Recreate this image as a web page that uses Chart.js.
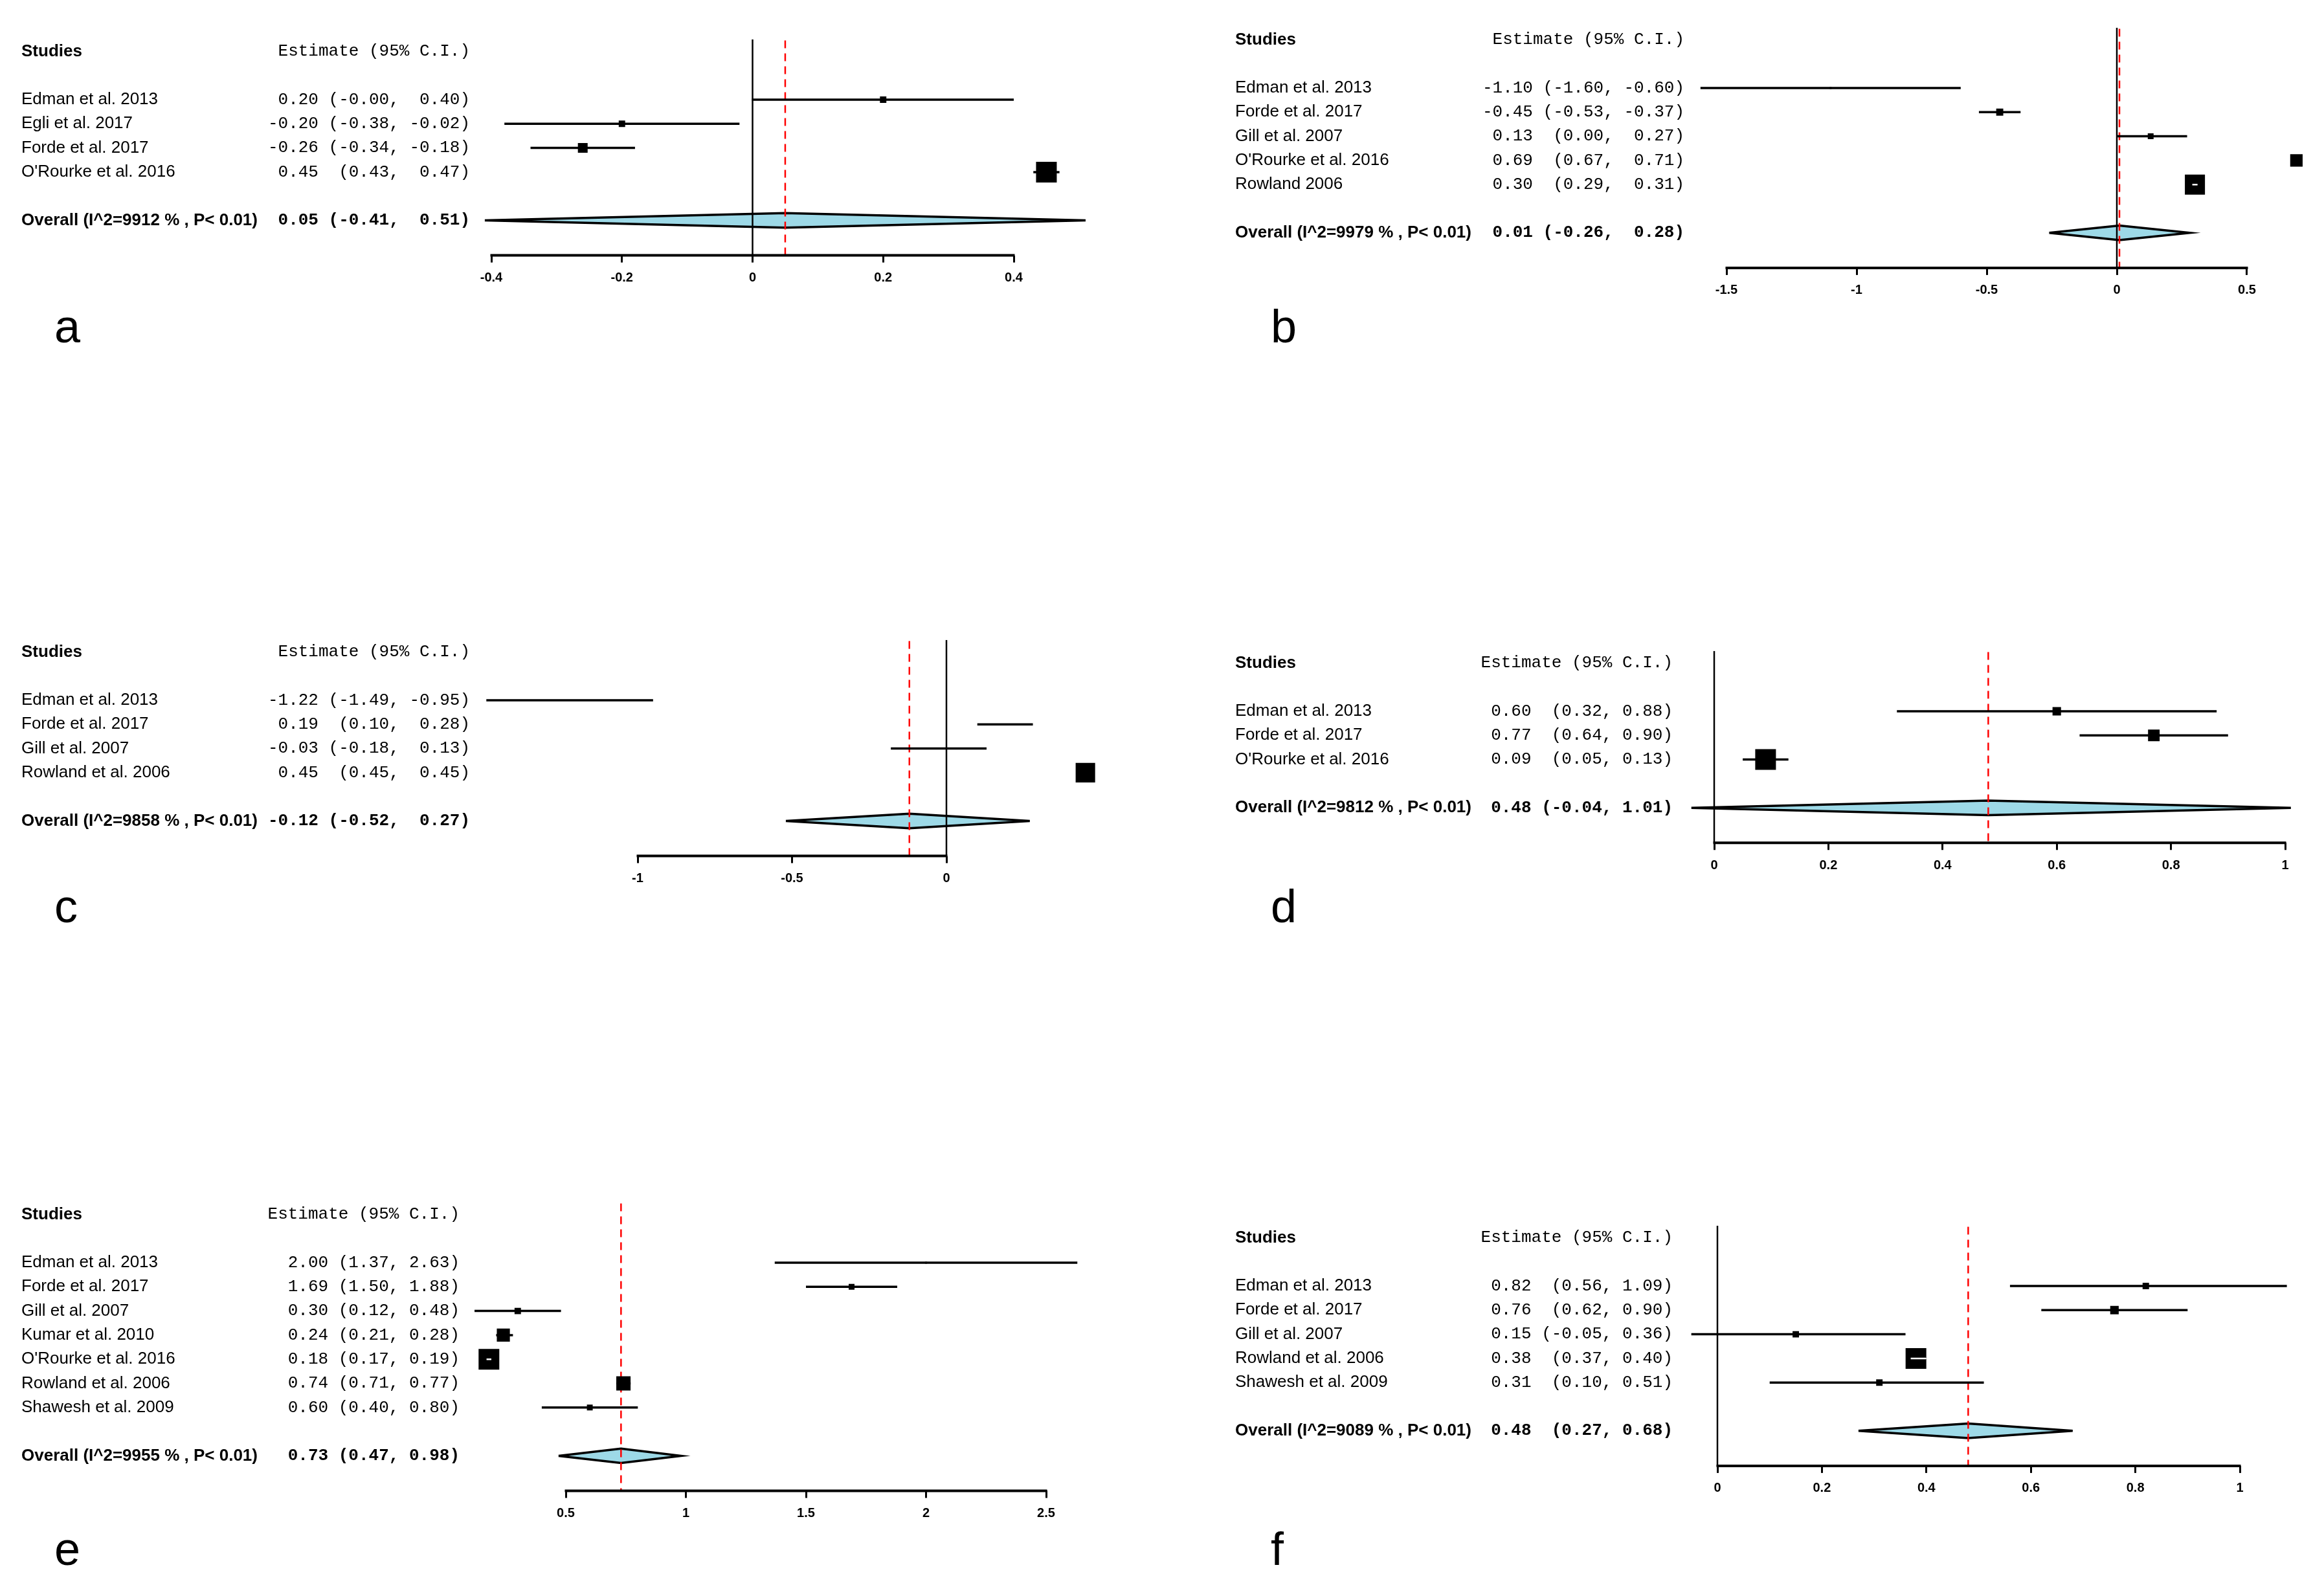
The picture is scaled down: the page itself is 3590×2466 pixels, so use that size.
<!DOCTYPE html>
<html>
<head>
<meta charset="utf-8">
<script src="https://cdn.jsdelivr.net/npm/chart.js@4.4.1/dist/chart.umd.min.js"></script>
<style>
  html, body { margin: 0; padding: 0; background: #fff; }
  body { width: 3590px; height: 2466px; position: relative; overflow: hidden; }
  canvas { position: absolute; }
</style>
</head>
<body>
<canvas id="pa"></canvas>
<canvas id="pb"></canvas>
<canvas id="pc"></canvas>
<canvas id="pd"></canvas>
<canvas id="pe"></canvas>
<canvas id="pf"></canvas>
<script>
// ---- data ----
// weights are relative box sizes (largest box = 1)

// a
const studiesA = ["Edman et al. 2013", "Egli et al. 2017", "Forde et al. 2017", "O'Rourke et al. 2016"];
const estA = [0.20, -0.20, -0.26, 0.45];
const lowA = [-0.001, -0.38, -0.34, 0.43];
const highA = [0.40, -0.02, -0.18, 0.47];
const weightA = [0.31, 0.31, 0.47, 1];
const overallA = [0.05, -0.41, 0.51];
const hetA = "Overall (I^2=9912 % , P< 0.01)";
const ticksA = [-0.4, -0.2, 0, 0.2, 0.4];

// b
const studiesB = ["Edman et al. 2013", "Forde et al. 2017", "Gill et al. 2007", "O'Rourke et al. 2016", "Rowland 2006"];
const estB = [-1.10, -0.45, 0.13, 0.69, 0.30];
const lowB = [-1.60, -0.53, 0.00, 0.67, 0.29];
const highB = [-0.60, -0.37, 0.27, 0.71, 0.31];
const weightB = [0.1, 0.34, 0.28, 0.6, 0.97];
const overallB = [0.01, -0.26, 0.28];
const hetB = "Overall (I^2=9979 % , P< 0.01)";
const ticksB = [-1.5, -1, -0.5, 0, 0.5];

// c
const studiesC = ["Edman et al. 2013", "Forde et al. 2017", "Gill et al. 2007", "Rowland et al. 2006"];
const estC = [-1.22, 0.19, -0.03, 0.45];
const lowC = [-1.49, 0.10, -0.18, 0.45];
const highC = [-0.95, 0.28, 0.13, 0.45];
const weightC = [0.06, 0.06, 0.06, 0.94];
const overallC = [-0.12, -0.52, 0.27];
const hetC = "Overall (I^2=9858 % , P< 0.01)";
const ticksC = [-1, -0.5, 0];

// d
const studiesD = ["Edman et al. 2013", "Forde et al. 2017", "O'Rourke et al. 2016"];
const estD = [0.60, 0.77, 0.09];
const lowD = [0.32, 0.64, 0.05];
const highD = [0.88, 0.90, 0.13];
const weightD = [0.41, 0.56, 1];
const overallD = [0.48, -0.04, 1.01];
const hetD = "Overall (I^2=9812 % , P< 0.01)";
const ticksD = [0, 0.2, 0.4, 0.6, 0.8, 1];

// e
const studiesE = ["Edman et al. 2013", "Forde et al. 2017", "Gill et al. 2007", "Kumar et al. 2010",
                  "O'Rourke et al. 2016", "Rowland et al. 2006", "Shawesh et al. 2009"];
const estE = [2.00, 1.69, 0.30, 0.24, 0.18, 0.74, 0.60];
const lowE = [1.37, 1.50, 0.12, 0.21, 0.17, 0.71, 0.40];
const highE = [2.63, 1.88, 0.48, 0.28, 0.19, 0.77, 0.80];
const weightE = [0.1, 0.28, 0.31, 0.63, 1, 0.69, 0.28];
const overallE = [0.73, 0.47, 0.98];
const hetE = "Overall (I^2=9955 % , P< 0.01)";
const ticksE = [0.5, 1, 1.5, 2, 2.5];

// f
const studiesF = ["Edman et al. 2013", "Forde et al. 2017", "Gill et al. 2007", "Rowland et al. 2006", "Shawesh et al. 2009"];
const estF = [0.82, 0.76, 0.15, 0.38, 0.31];
const lowF = [0.56, 0.62, -0.05, 0.37, 0.10];
const highF = [1.09, 0.90, 0.36, 0.40, 0.51];
const weightF = [0.31, 0.41, 0.31, 1, 0.31];
const overallF = [0.48, 0.27, 0.68];
const hetF = "Overall (I^2=9089 % , P< 0.01)";
const ticksF = [0, 0.2, 0.4, 0.6, 0.8, 1];

// ---- layout ----
const BOX_MAX = 32;      // px side of the biggest box
const ROW_H = 37.3;      // px between study rows
const SANS = '"Liberation Sans", Arial, sans-serif';
const MONO = '"Liberation Mono", "Courier New", monospace';

// estimate column text, right aligned like R does it
function estText(est, low, high, ov) {
  const e = est.concat([ov[0]]).map(v => v.toFixed(2));
  const l = low.concat([ov[1]]).map(v => "(" + v.toFixed(2) + ",");
  const h = high.concat([ov[2]]).map(v => v.toFixed(2) + ")");
  const we = Math.max(...e.map(s => s.length));
  const wl = Math.max(...l.map(s => s.length));
  const wh = Math.max(...h.map(s => s.length));
  return e.map((s, i) => s.padStart(we) + " " + l[i].padStart(wl) + " " + h[i].padStart(wh));
}

function makeForest(cfg) {
  const n = cfg.studies.length;
  const yMin = -1.5, yMax = n + 3.45;
  const padTop = 6, axisH = 70;
  const chartTop = cfg.row1 + (yMin - 1) * ROW_H;
  const chartH = (yMax - yMin) * ROW_H;
  const canvasTop = Math.round(chartTop - padTop);
  const canvasH = Math.round(cfg.letterY + 30 - canvasTop);
  const t0 = cfg.ticks[0], t1 = cfg.ticks[cfg.ticks.length - 1];
  const ppu = (cfg.p2 - cfg.p1) / (t1 - t0);
  const xMin = t0 + (cfg.chartL - cfg.p1) / ppu;
  const xMax = t0 + (cfg.chartR - cfg.p1) / ppu;

  const canvas = document.getElementById(cfg.id);
  canvas.width = cfg.width;
  canvas.height = canvasH;
  canvas.style.left = cfg.left + "px";
  canvas.style.top = canvasTop + "px";
  canvas.style.width = cfg.width + "px";
  canvas.style.height = canvasH + "px";

  const boxSide = cfg.weights.map(w => w * BOX_MAX);
  const ov = cfg.overall;
  const datasets = [];

  // white CI line drawn over boxes that are wider than their CI
  cfg.est.forEach((e, i) => {
    datasets.push({
      type: "line", order: 0, pointRadius: 0, borderWidth: 2.5,
      data: [{ x: cfg.low[i], y: i + 1 }, { x: cfg.high[i], y: i + 1 }],
      segment: { borderColor: c => (c.p1.x - c.p0.x < boxSide[i] - 4 ? "#fff" : "rgba(0,0,0,0)") }
    });
  });

  // boxes
  datasets.push({
    type: "scatter", order: 1,
    data: cfg.est.map((e, i) => ({ x: e, y: i + 1 })),
    pointStyle: "rect",
    pointRadius: boxSide.map(s => s / Math.SQRT2),
    pointBackgroundColor: "#000",
    pointBorderWidth: 0
  });

  // confidence intervals
  cfg.est.forEach((e, i) => {
    datasets.push({
      type: "line", order: 2, pointRadius: 0, borderWidth: 3.5, borderColor: "#000",
      data: [{ x: cfg.low[i], y: i + 1 }, { x: cfg.high[i], y: i + 1 }]
    });
  });

  // reference lines
  if (0 >= t0 && 0 <= t1) {
    datasets.push({
      type: "line", order: 3, pointRadius: 0, borderWidth: 2.5, borderColor: "#000",
      data: [{ x: 0, y: yMin }, { x: 0, y: yMax }]
    });
  }
  datasets.push({
    type: "line", order: 3, pointRadius: 0, borderWidth: 2.5, borderColor: "#ff0000",
    borderDash: [12, 8],
    data: [{ x: ov[0], y: yMin + 0.05 }, { x: ov[0], y: yMax }]
  });

  // summary diamond
  const r = n + 2;
  datasets.push({
    type: "line", order: 4, pointRadius: 0, borderWidth: 3.5, borderColor: "#000",
    backgroundColor: "#9dd9e7", fill: "shape", borderJoinStyle: "miter",
    data: [{ x: ov[1], y: r }, { x: ov[0], y: r - 0.3 }, { x: ov[2], y: r },
           { x: ov[0], y: r + 0.3 }, { x: ov[1], y: r }]
  });

  const rows = estText(cfg.est, cfg.low, cfg.high, ov);

  const textPlugin = {
    id: "forestText",
    afterDraw(chart) {
      const ctx = chart.ctx;
      const ys = chart.scales.y, xs = chart.scales.x;
      const sx = cfg.studyX - cfg.left, ex = cfg.estRight - cfg.left;
      ctx.save();
      ctx.fillStyle = "#000";
      ctx.strokeStyle = "#000";

      // partial axis line between first and last tick
      ctx.lineWidth = 4;
      ctx.beginPath();
      ctx.moveTo(xs.getPixelForValue(t0) - 1.5, chart.chartArea.bottom);
      ctx.lineTo(xs.getPixelForValue(t1) + 1.5, chart.chartArea.bottom);
      ctx.stroke();

      ctx.textBaseline = "middle";
      ctx.textAlign = "left";
      ctx.font = "bold 26px " + SANS;
      ctx.fillText("Studies", sx, ys.getPixelForValue(-1));
      ctx.font = "26px " + SANS;
      cfg.studies.forEach((s, i) => ctx.fillText(s, sx, ys.getPixelForValue(i + 1)));
      ctx.font = "bold 26px " + SANS;
      ctx.fillText(cfg.het, sx, ys.getPixelForValue(n + 2));

      ctx.textAlign = "right";
      ctx.font = "26px " + MONO;
      ctx.fillText("Estimate (95% C.I.)", ex, ys.getPixelForValue(-1));
      for (let i = 0; i < n; i++) ctx.fillText(rows[i], ex, ys.getPixelForValue(i + 1));
      ctx.font = "bold 26px " + MONO;
      ctx.fillText(rows[n], ex, ys.getPixelForValue(n + 2));

      // panel letter
      ctx.textAlign = "left";
      ctx.textBaseline = "alphabetic";
      ctx.font = "72px " + SANS;
      ctx.fillText(cfg.letter, cfg.letterX - cfg.left, cfg.letterY - canvasTop);
      ctx.restore();
    }
  };

  return new Chart(canvas, {
    type: "scatter",
    data: { datasets: datasets },
    options: {
      responsive: false,
      animation: false,
      devicePixelRatio: 1,
      events: [],
      layout: {
        autoPadding: false,
        padding: {
          left: cfg.chartL - cfg.left,
          right: cfg.left + cfg.width - cfg.chartR,
          top: chartTop - canvasTop,
          bottom: canvasH - (chartTop - canvasTop) - chartH - axisH
        }
      },
      plugins: { legend: { display: false }, tooltip: { enabled: false } },
      scales: {
        x: {
          type: "linear", position: "bottom", min: xMin, max: xMax,
          afterBuildTicks: ax => { ax.ticks = cfg.ticks.map(v => ({ value: v })); },
          afterFit: ax => { ax.height = axisH; },
          border: { display: false },
          grid: { drawOnChartArea: false, drawTicks: true, tickLength: 11, color: "#000", lineWidth: 3 },
          ticks: {
            color: "#000", padding: 12, maxRotation: 0, autoSkip: false,
            font: { family: SANS, size: 20, weight: "bold" },
            callback: v => String(v)
          }
        },
        y: { type: "linear", display: false, reverse: true, min: yMin, max: yMax }
      }
    },
    plugins: [textPlugin]
  });
}

makeForest({ id: "pa", letter: "a", left: 0, width: 1760, row1: 154, studyX: 33, estRight: 726,
  chartL: 740, chartR: 1745, p1: 759, p2: 1566, letterX: 84, letterY: 529,
  studies: studiesA, est: estA, low: lowA, high: highA, weights: weightA, overall: overallA, het: hetA, ticks: ticksA });

makeForest({ id: "pb", letter: "b", left: 1880, width: 1710, row1: 136, studyX: 1908, estRight: 2602,
  chartL: 2612, chartR: 3585, p1: 2667, p2: 3471, letterX: 1963, letterY: 529,
  studies: studiesB, est: estB, low: lowB, high: highB, weights: weightB, overall: overallB, het: hetB, ticks: ticksB });

makeForest({ id: "pc", letter: "c", left: 0, width: 1760, row1: 1082, studyX: 33, estRight: 726,
  chartL: 740, chartR: 1745, p1: 985, p2: 1462, letterX: 84, letterY: 1425,
  studies: studiesC, est: estC, low: lowC, high: highC, weights: weightC, overall: overallC, het: hetC, ticks: ticksC });

makeForest({ id: "pd", letter: "d", left: 1880, width: 1710, row1: 1099, studyX: 1908, estRight: 2584,
  chartL: 2595, chartR: 3585, p1: 2648, p2: 3530, letterX: 1963, letterY: 1425,
  studies: studiesD, est: estD, low: lowD, high: highD, weights: weightD, overall: overallD, het: hetD, ticks: ticksD });

makeForest({ id: "pe", letter: "e", left: 0, width: 1760, row1: 1951, studyX: 33, estRight: 710,
  chartL: 718, chartR: 1745, p1: 874, p2: 1616, letterX: 84, letterY: 2418,
  studies: studiesE, est: estE, low: lowE, high: highE, weights: weightE, overall: overallE, het: hetE, ticks: ticksE });

makeForest({ id: "pf", letter: "f", left: 1880, width: 1710, row1: 1987, studyX: 1908, estRight: 2584,
  chartL: 2595, chartR: 3585, p1: 2653, p2: 3460, letterX: 1963, letterY: 2418,
  studies: studiesF, est: estF, low: lowF, high: highF, weights: weightF, overall: overallF, het: hetF, ticks: ticksF });
</script>
</body>
</html>
